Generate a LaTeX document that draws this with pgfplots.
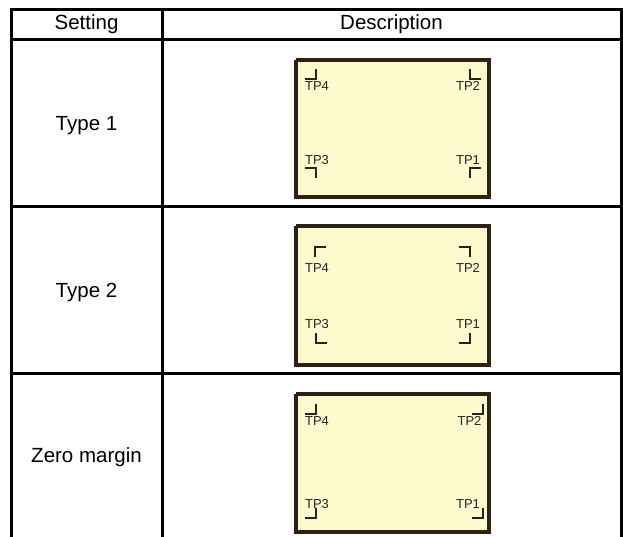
\documentclass[border=0pt]{standalone}
\usepackage{fontspec}
\setmainfont{Liberation Sans}
\usepackage{pgfplots}
\pgfplotsset{compat=1.18}
\definecolor{boxfill}{RGB}{255,249,206}
\definecolor{boxedge}{RGB}{46,32,18}
\definecolor{markc}{RGB}{35,35,35}
\begin{document}
\begin{tikzpicture}
\begin{axis}[
  width=623pt, height=537pt, scale only axis,
  xmin=0, xmax=623, ymin=0, ymax=537, y dir=reverse,
  hide axis, clip=false,
  every axis plot/.append style={mark=none},
]
% table grid
\pgfplotsset{tl/.style={black, line width=3pt, line cap=rect}}
\addplot[tl] coordinates {(11,10) (621,10)};
\addplot[tl] coordinates {(11,40) (621,40)};
\addplot[tl] coordinates {(11,207) (621,207)};
\addplot[tl] coordinates {(11,373) (621,373)};
\addplot[tl] coordinates {(11,10) (11,540)};
\addplot[tl] coordinates {(162,10) (162,540)};
\addplot[tl] coordinates {(621,10) (621,540)};
% boxes
\pgfplotsset{bx/.style={fill=boxfill, draw=boxedge, line width=3.3pt, line join=miter}}
\addplot[bx] coordinates {(296,60) (489,60) (489,197) (296,197) (296,60)};
\addplot[bx] coordinates {(296,226) (489,226) (489,365) (296,365) (296,226)};
\addplot[bx] coordinates {(296,394) (489,394) (489,532) (296,532) (296,394)};
% corner marks
\pgfplotsset{mk/.style={markc, line width=2.6pt, line join=miter}}
% Type 1
\addplot[mk] coordinates {(305,79) (316,79) (316,69)};
\addplot[mk] coordinates {(470,69) (470,79) (481,79)};
\addplot[mk] coordinates {(305,168) (316,168) (316,178)};
\addplot[mk] coordinates {(481,168) (470,168) (470,178)};
% Type 2
\addplot[mk] coordinates {(326,247) (315,247) (315,257)};
\addplot[mk] coordinates {(459,247) (470,247) (470,257)};
\addplot[mk] coordinates {(316,333) (316,343) (327,343)};
\addplot[mk] coordinates {(459,343) (470,343) (470,333)};
% Zero margin
\addplot[mk] coordinates {(305,414) (316,414) (316,404)};
\addplot[mk] coordinates {(472,414) (483,414) (483,404)};
\addplot[mk] coordinates {(305,518) (316,518) (316,508)};
\addplot[mk] coordinates {(472,518) (483,518) (483,508)};
% texts
\tikzset{big/.style={anchor=base, inner sep=0pt, font=\fontsize{20.5}{24}\selectfont},
         tp/.style={anchor=base, inner sep=0pt, text=markc, font=\fontsize{13}{15}\selectfont}}
\node[big] at (axis cs:86.5,29.5) {Setting};
\node[big] at (axis cs:391.5,29.5) {Description};
\node[big] at (axis cs:86.5,131) {Type 1};
\node[big] at (axis cs:86.5,297.5) {Type 2};
\node[big] at (axis cs:86.5,462.5) {Zero margin};
\node[tp] at (axis cs:317,90.5) {TP4};
\node[tp] at (axis cs:468,90.5) {TP2};
\node[tp] at (axis cs:317,165) {TP3};
\node[tp] at (axis cs:468,165) {TP1};
\node[tp] at (axis cs:317,272) {TP4};
\node[tp] at (axis cs:468,272) {TP2};
\node[tp] at (axis cs:317,328) {TP3};
\node[tp] at (axis cs:468,328) {TP1};
\node[tp] at (axis cs:317,425) {TP4};
\node[tp] at (axis cs:469.5,425) {TP2};
\node[tp] at (axis cs:317,508) {TP3};
\node[tp] at (axis cs:468,508) {TP1};
\end{axis}
\pgfresetboundingbox
\useasboundingbox (0,0) rectangle (623pt,537pt);
\end{tikzpicture}
\end{document}
